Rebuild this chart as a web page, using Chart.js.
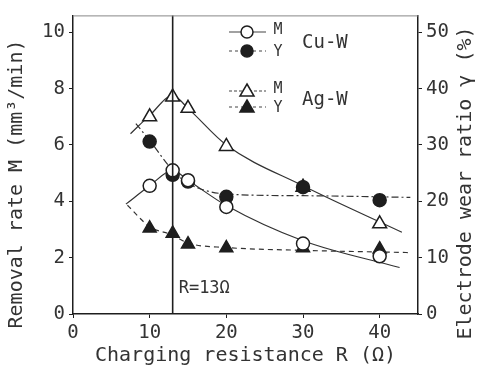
<!DOCTYPE html>
<html>
<head>
<meta charset="utf-8">
<script src="https://cdn.jsdelivr.net/npm/chart.js@4"></script>
<style>
  html, body { margin: 0; padding: 0; background: #fff; }
  #wrap { width: 484px; height: 372px; }
</style>
</head>
<body>
<div id="wrap"><canvas id="chart" width="484" height="372"></canvas></div>
<script>
// measured points (R in ohm)
const rPoints = [10, 13, 15, 20, 30, 40];
const mCuW = [4.55, 5.1, 4.75, 3.8, 2.5, 2.05];      // mm3/min
const yCuW = [30.6, 24.7, 23.5, 20.8, 22.5, 20.2];   // %
const mAgW = [7.0, 7.7, 7.3, 5.95, 4.5, 3.2];        // mm3/min
const yAgW = [15.2, 14.3, 12.4, 11.7, 11.7, 11.5];   // %

// fitted curves
const mCuWFitR = [6.9, 10, 13, 15, 20, 30, 42.6];
const mCuWFit = [3.9, 4.55, 5.1, 4.75, 3.85, 2.6, 1.65];
const mAgWFitR = [7.5, 10, 13, 15, 20, 30, 42.9];
const mAgWFit = [6.4, 7.05, 7.75, 7.3, 6.0, 4.55, 2.9];
const yCuWFitR = [8.2, 10, 13, 15, 20, 30, 44];
const yCuWFit = [33.8, 30.8, 25.5, 23.2, 21.3, 21.0, 20.7];
const yAgWFitR = [7.1, 10, 13, 15, 20, 30, 44];
const yAgWFit = [19.3, 15.5, 14.0, 12.6, 11.8, 11.3, 10.9];

const leftTicks = [0, 2, 4, 6, 8, 10];
const rightTicks = [0, 10, 20, 30, 40, 50];
const xTicks = [0, 10, 20, 30, 40];
const markR = 13;

const ink = "#1e1e1e";
const font = "'DejaVu Sans Mono', monospace";

function pts(xs, ys) {
    return xs.map((x, i) => ({ x: x, y: ys[i] }));
}

function fitLine(xs, ys, axis, dash) {
    return {
        data: pts(xs, ys),
        yAxisID: axis,
        showLine: true,
        borderColor: "#333",
        borderWidth: 1.2,
        borderDash: dash,
        pointRadius: 0,
        cubicInterpolationMode: "monotone",
        fill: false,
        order: 10,
    };
}

function marks(ys, axis, style, filled, radius, order) {
    return {
        data: pts(rPoints, ys),
        yAxisID: axis,
        showLine: false,
        pointStyle: style,
        pointRadius: radius,
        pointBorderWidth: 1.5,
        pointBorderColor: ink,
        pointBackgroundColor: filled ? ink : "#fff",
        order: order,
    };
}

const overlay = {
    id: "overlay",
    afterDatasetsDraw(chart) {
        const c = chart.ctx;
        const area = chart.chartArea;
        const xs = chart.scales.x;
        const px = xs.getPixelForValue(markR);
        c.save();
        c.strokeStyle = ink;
        c.lineWidth = 1.6;
        c.beginPath();
        c.moveTo(px, area.top);
        c.lineTo(px, area.bottom);
        c.stroke();

        c.fillStyle = "#333";
        c.font = "17px " + font;
        c.textBaseline = "middle";
        c.fillText("R=13\u03a9", px + 6, 289);

        // legend
        function glyph(y, style, filled, dash) {
            c.strokeStyle = "#444";
            c.lineWidth = 1.2;
            c.setLineDash(dash);
            c.beginPath();
            c.moveTo(229, y);
            c.lineTo(266, y);
            c.stroke();
            c.setLineDash([]);
            c.fillStyle = filled ? ink : "#fff";
            c.strokeStyle = ink;
            c.lineWidth = 1.5;
            c.beginPath();
            if (style === "circle") {
                c.arc(247, y, 6, 0, Math.PI * 2);
            } else {
                c.moveTo(247, y - 7);
                c.lineTo(254, y + 5);
                c.lineTo(240, y + 5);
                c.closePath();
            }
            c.fill();
            c.stroke();
        }
        glyph(32, "circle", false, []);
        glyph(51, "circle", true, [3, 3]);
        glyph(91, "triangle", false, [3, 2]);
        glyph(107, "triangle", true, [3, 3]);

        c.fillStyle = "#333";
        c.textAlign = "center";
        c.font = "15px " + font;
        c.fillText("M", 278, 30);
        c.fillText("Y", 278, 52);
        c.fillText("M", 278, 89);
        c.fillText("Y", 278, 108);
        c.textAlign = "left";
        c.font = "19px " + font;
        c.fillText("Cu-W", 302, 43);
        c.fillText("Ag-W", 302, 100);

        // axis titles, both reading bottom to top
        c.textAlign = "center";
        c.font = "20px " + font;
        c.save();
        c.translate(17, 184);
        c.rotate(-Math.PI / 2);
        c.fillText("Removal rate M (mm\u00b3/min)", 0, 0);
        c.restore();
        c.translate(466, 183);
        c.rotate(-Math.PI / 2);
        c.fillText("Electrode wear ratio \u03b3 (%)", 0, 0);
        c.restore();
    },
};

new Chart(document.getElementById("chart").getContext("2d"), {
    type: "scatter",
    data: {
        datasets: [
            fitLine(mAgWFitR, mAgWFit, "y", []),
            fitLine(mCuWFitR, mCuWFit, "y", []),
            fitLine(yCuWFitR, yCuWFit, "y2", [7, 3, 2, 3]),
            fitLine(yAgWFitR, yAgWFit, "y2", [5, 4]),
            marks(mAgW, "y", "triangle", false, 8, 6),
            marks(yCuW, "y2", "circle", true, 6.5, 5),
            marks(yAgW, "y2", "triangle", true, 7.5, 4),
            marks(mCuW, "y", "circle", false, 6.5, 3),
        ],
    },
    options: {
        responsive: false,
        animation: false,
        layout: { padding: { top: 8 } },
        plugins: {
            legend: { display: false },
            tooltip: { enabled: false },
        },
        scales: {
            x: {
                type: "linear",
                min: 0,
                max: 45,
                afterFit: (s) => { s.height = 58; },
                afterBuildTicks: (s) => { s.ticks = xTicks.map((v) => ({ value: v })); },
                border: { color: ink, width: 1.5 },
                grid: { drawOnChartArea: false, tickLength: 4, color: ink },
                ticks: {
                    color: "#333",
                    padding: 4,
                    font: { family: font, size: 19 },
                },
                title: {
                    display: true,
                    text: "Charging resistance R (\u03a9)",
                    color: "#333",
                    padding: { top: 0 },
                    font: { family: font, size: 20 },
                },
            },
            y: {
                position: "left",
                min: 0,
                max: 10.6,
                afterFit: (s) => { s.width = 73; },
                afterBuildTicks: (s) => { s.ticks = leftTicks.map((v) => ({ value: v })); },
                border: { color: ink, width: 1.5 },
                grid: { drawOnChartArea: false, tickLength: 4, color: ink },
                ticks: {
                    color: "#333",
                    padding: 4,
                    font: { family: font, size: 19 },
                },
            },
            y2: {
                position: "right",
                min: 0,
                max: 53,
                afterFit: (s) => { s.width = 66; },
                afterBuildTicks: (s) => { s.ticks = rightTicks.map((v) => ({ value: v })); },
                border: { color: ink, width: 1.5 },
                grid: { drawOnChartArea: false, tickLength: 4, color: ink },
                ticks: {
                    color: "#333",
                    padding: 4,
                    font: { family: font, size: 19 },
                },
            },
        },
    },
    plugins: [
        overlay,
        {
            id: "frameTop",
            afterDraw(chart) {
                const a = chart.chartArea;
                const c = chart.ctx;
                c.save();
                c.strokeStyle = "#888";
                c.lineWidth = 1;
                c.beginPath();
                c.moveTo(a.left, a.top + 0.5);
                c.lineTo(a.right, a.top + 0.5);
                c.stroke();
                c.restore();
            },
        },
    ],
});
</script>
</body>
</html>
